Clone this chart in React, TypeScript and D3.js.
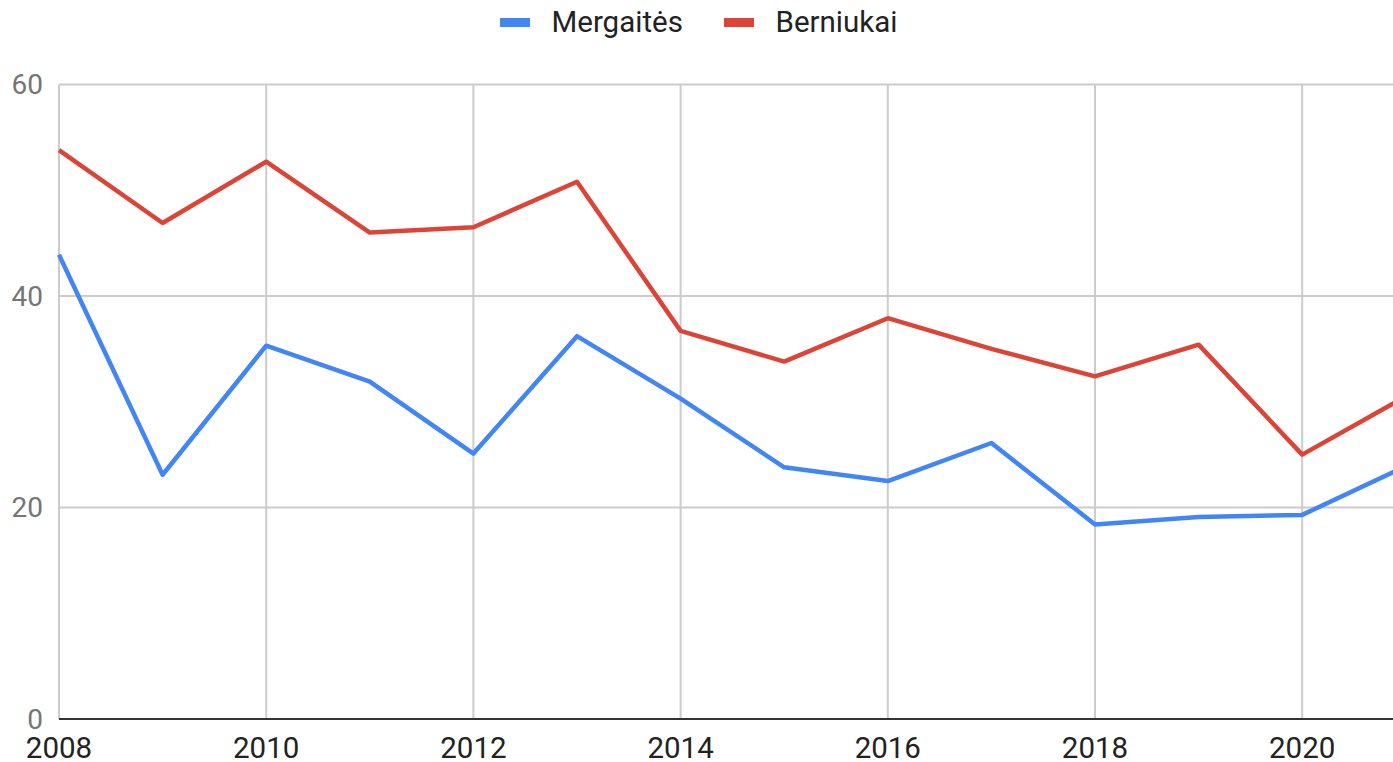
import React from "react";
import * as d3 from "d3";

const years = [2008, 2009, 2010, 2011, 2012, 2013, 2014, 2015, 2016, 2017, 2018, 2019, 2020, 2021];
const mergaites = [43.9, 23.1, 35.3, 31.9, 25.1, 36.2, 30.3, 23.8, 22.5, 26.1, 18.4, 19.1, 19.3, 23.9];
const berniukai = [53.8, 46.9, 52.7, 46.0, 46.5, 50.8, 36.7, 33.8, 37.9, 35.0, 32.4, 35.4, 25.0, 30.5];
const yTicks = [0, 20, 40, 60];
const xTicks = [2008, 2010, 2012, 2014, 2016, 2018, 2020];
const seriesNames = ["Mergaitės", "Berniukai"];
const colors = ["#4285F4", "#DB4437"];

const W = 1393;
const H = 762;

export default function App() {
  const x = d3.scaleLinear().domain([2008, 2021]).range([59, 59 + 13 * 103.6]);
  const y = d3.scaleLinear().domain([0, 60]).range([719, 84.5]);
  const line = d3
    .line<number>()
    .x((_, i) => x(years[i]))
    .y((d) => y(d));
  const series = [mergaites, berniukai];
  const font = "Roboto, 'Noto Sans', sans-serif";
  const legendX = [500, 724];
  return (
    <svg
      width={W}
      height={H}
      style={{ position: "fixed", left: 0, top: 0, overflow: "hidden", background: "#fff" }}
    >
      <rect x={0} y={0} width={W} height={H} fill="#fff" />
      {yTicks.map((t) => (
        <g key={"y" + t}>
          {t !== 0 && (
            <line x1={x(2008)} x2={W} y1={y(t)} y2={y(t)} stroke="#cccccc" strokeWidth={2} />
          )}
          <text
            x={43}
            y={y(t)}
            textAnchor="end"
            dominantBaseline="central"
            fontFamily={font}
            fontSize={28}
            fill="#757575"
          >
            {t}
          </text>
        </g>
      ))}
      {xTicks.map((t) => (
        <g key={"x" + t}>
          <line x1={x(t)} x2={x(t)} y1={y(60)} y2={y(0)} stroke="#cccccc" strokeWidth={2} />
          <text
            x={x(t)}
            y={758}
            textAnchor="middle"
            fontFamily={font}
            fontSize={29.5}
            fill="#222222"
          >
            {t}
          </text>
        </g>
      ))}
      <line x1={x(2008)} x2={W} y1={y(0)} y2={y(0)} stroke="#333333" strokeWidth={2} />
      {series.map((s, i) => (
        <path
          key={"s" + i}
          d={line(s) || ""}
          fill="none"
          stroke={colors[i]}
          strokeWidth={4.5}
          strokeLinejoin="round"
        />
      ))}
      {seriesNames.map((n, i) => (
        <g key={"l" + i}>
          <rect x={legendX[i]} y={18} width={30} height={9} fill={colors[i]} />
          <text
            x={legendX[i] + 51.5}
            y={32}
            fontFamily={font}
            fontSize={29.5}
            fill="#222222"
          >
            {n}
          </text>
        </g>
      ))}
    </svg>
  );
}
